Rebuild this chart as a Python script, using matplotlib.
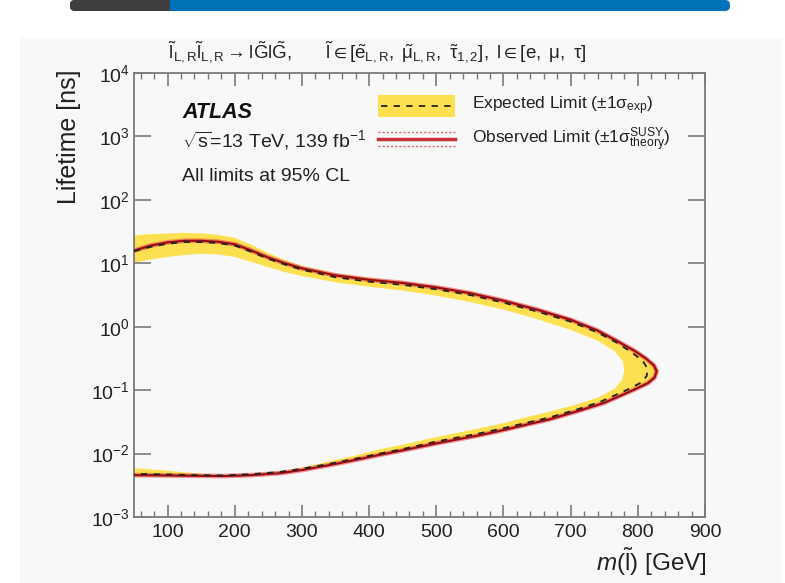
import numpy as np
import matplotlib
matplotlib.use('Agg')
import matplotlib.pyplot as plt
from matplotlib.patches import Rectangle, FancyBboxPatch
from matplotlib.lines import Line2D
from matplotlib.ticker import MultipleLocator, NullLocator
from matplotlib.transforms import IdentityTransform

plt.rcParams['font.family'] = ['Liberation Sans', 'DejaVu Sans']
plt.rcParams['mathtext.fontset'] = 'custom'
plt.rcParams['mathtext.rm'] = 'Liberation Sans'
plt.rcParams['mathtext.it'] = 'Liberation Sans:italic'
plt.rcParams['mathtext.bf'] = 'Liberation Sans:bold'
plt.rcParams['mathtext.sf'] = 'Liberation Sans'
plt.rcParams['mathtext.default'] = 'regular'

# contours: slepton mass [GeV] and log10(lifetime / ns)
# going along the upper branch to the tip, then back along the lower branch
obs_mass = [50, 75, 100, 125, 150, 175, 200, 225, 250, 275, 300, 350, 400, 450, 500, 550, 600, 650,
            700, 740, 770, 795, 812, 824, 828, 825, 815, 793, 750, 714, 669, 640, 600, 565, 500,
            450, 416, 380, 342, 300, 267, 225, 183, 140, 100, 50]
obs_logtau = [1.20, 1.28, 1.33, 1.355, 1.355, 1.34, 1.30, 1.20, 1.09, 1.00, 0.92, 0.81, 0.74, 0.69,
              0.62, 0.53, 0.41, 0.27, 0.11, -0.06, -0.23, -0.38, -0.50, -0.61, -0.70, -0.80, -0.89,
              -1.00, -1.20, -1.32, -1.46, -1.53, -1.63, -1.71, -1.84, -1.95, -2.02, -2.10, -2.18,
              -2.26, -2.31, -2.34, -2.355, -2.35, -2.345, -2.34]

exp_mass = [50, 75, 100, 125, 150, 175, 200, 225, 250, 275, 300, 350, 400, 450, 500, 550, 600, 650,
            700, 740, 770, 793, 808, 815, 813, 805, 785, 745, 714, 669, 640, 600, 565, 500, 450,
            416, 380, 342, 300, 267, 225, 183, 140, 100, 50]
exp_logtau = [1.19, 1.26, 1.31, 1.335, 1.335, 1.32, 1.28, 1.18, 1.07, 0.98, 0.90, 0.78, 0.71, 0.66,
              0.59, 0.50, 0.38, 0.24, 0.08, -0.09, -0.26, -0.42, -0.55, -0.67, -0.78, -0.88, -0.99,
              -1.18, -1.29, -1.43, -1.50, -1.60, -1.68, -1.81, -1.93, -2.00, -2.08, -2.16, -2.24,
              -2.29, -2.325, -2.345, -2.34, -2.33, -2.32]

band_out_mass = [50, 75, 100, 125, 150, 175, 200, 225, 250, 275, 300, 350, 400, 450, 500, 550, 600,
                 650, 700, 740, 770, 795, 812, 826, 831, 828, 818, 795, 752, 714, 669, 640, 600, 565,
                 500, 450, 416, 380, 342, 300, 267, 225, 183, 140, 100, 50]
band_out_logtau = [1.44, 1.46, 1.47, 1.48, 1.47, 1.45, 1.40, 1.29, 1.16, 1.05, 0.96, 0.84, 0.77,
                   0.71, 0.64, 0.55, 0.43, 0.29, 0.13, -0.04, -0.21, -0.36, -0.48, -0.60, -0.70,
                   -0.80, -0.89, -1.00, -1.20, -1.33, -1.47, -1.54, -1.64, -1.72, -1.85, -1.96,
                   -2.03, -2.11, -2.19, -2.27, -2.32, -2.35, -2.365, -2.365, -2.36, -2.36]

band_in_mass = [50, 75, 100, 125, 150, 175, 200, 225, 250, 275, 300, 350, 400, 450, 500, 550, 600,
                650, 700, 740, 765, 778, 780, 776, 765, 740, 714, 669, 640, 600, 565, 500, 450, 416,
                380, 342, 300, 267, 225, 183, 140, 100, 50]
band_in_logtau = [1.01, 1.06, 1.10, 1.13, 1.15, 1.14, 1.10, 1.02, 0.94, 0.86, 0.80, 0.70, 0.63, 0.57,
                  0.49, 0.39, 0.27, 0.12, -0.05, -0.22, -0.38, -0.55, -0.70, -0.85, -0.98, -1.12,
                  -1.21, -1.34, -1.41, -1.52, -1.60, -1.74, -1.86, -1.93, -2.03, -2.12, -2.22,
                  -2.28, -2.32, -2.34, -2.31, -2.27, -2.23]

W, H = 785, 583
fig = plt.figure(figsize=(W / 100, H / 100), dpi=100)
fig.patch.set_facecolor('white')

# page background and the header bar of the screenshot
fig.add_artist(Rectangle((20, 0), 762, H - 38, transform=IdentityTransform(),
                         facecolor='#f8f8f8', edgecolor='none', zorder=-10))
fig.add_artist(FancyBboxPatch((70, H - 11), 660, 11, boxstyle='round,pad=0,rounding_size=5',
                              transform=IdentityTransform(), facecolor='#0072bc',
                              edgecolor='none', zorder=-9))
fig.add_artist(FancyBboxPatch((70, H - 11), 100, 11, boxstyle='round,pad=0,rounding_size=5',
                              transform=IdentityTransform(), facecolor='#3f3f3f',
                              edgecolor='none', zorder=-8))
fig.add_artist(Rectangle((150, H - 11), 20, 11, transform=IdentityTransform(),
                         facecolor='#3f3f3f', edgecolor='none', zorder=-8))

ax = fig.add_axes([134 / W, 66 / H, 571 / W, 444 / H])
ax.set_facecolor('none')

band_m = band_out_mass + band_in_mass[::-1]
band_t = 10 ** np.array(band_out_logtau + band_in_logtau[::-1])
ax.fill(band_m, band_t, color='#fde050', lw=0, zorder=1)

obs_tau = 10 ** np.array(obs_logtau)
exp_tau = 10 ** np.array(exp_logtau)
ax.plot(obs_mass, obs_tau, color='#e8404c', lw=3.4, alpha=0.55, zorder=2)
ax.plot(obs_mass, obs_tau, color='#9a0a14', lw=1.5, zorder=3)
ax.plot(exp_mass, exp_tau, color='#222222', lw=1.3, ls=(0, (3.5, 3.5)), zorder=4)

ax.set_yscale('log')
ax.set_xlim(50, 900)
ax.set_ylim(1e-3, 1e4)
ax.xaxis.set_major_locator(MultipleLocator(100))
ax.xaxis.set_minor_locator(MultipleLocator(20))
ax.yaxis.set_minor_locator(NullLocator())
ax.set_xticks([100, 200, 300, 400, 500, 600, 700, 800, 900])

spine_col = '#7a7a7a'
for s in ax.spines.values():
    s.set_color(spine_col)
    s.set_linewidth(1.3)
ax.tick_params(which='both', direction='in', top=True, right=True, color=spine_col,
               labelsize=14, labelcolor='#222222')
ax.tick_params(axis='x', which='major', length=9, width=1.2, pad=5)
ax.tick_params(axis='x', which='minor', length=4.5, width=1.0)
ax.tick_params(axis='y', which='major', length=12.5, width=1.2, pad=3)

fig.text(69 / W, 1 - 70 / H, 'Lifetime [ns]', rotation=90, ha='center', va='top', size=18,
         color='#222222')
fig.text(707 / W, 1 - 562 / H, r'$\mathit{m}(\tilde{\mathrm{l}})$ [GeV]', ha='right', va='center',
         size=17.5, color='#222222')
fig.text(168 / W, 1 - 52 / H,
         r'$\tilde{l}_{L,R}\tilde{l}_{L,R}\rightarrow l\tilde{G}l\tilde{G},\quad\quad'
         r'\tilde{l}\in[\tilde{e}_{L,R},\ \tilde{\mu}_{L,R},\ \tilde{\tau}_{1,2}],\ l\in[e,\ \mu,\ \tau]$',
         ha='left', va='center', size=13.5, color='#222222')

ax.text(0.084, 0.912, 'ATLAS', weight='bold', style='italic', size=15.5, va='center',
        transform=ax.transAxes, color='#111111')
ax.text(0.084, 0.849, r'$\sqrt{s}$=13 TeV, 139 fb$^{-1}$', size=14, va='center',
        transform=ax.transAxes, color='#222222')
ax.text(0.084, 0.766, 'All limits at 95% CL', size=14, va='center',
        transform=ax.transAxes, color='#222222')

# legend drawn by hand, ROOT style
ax.add_patch(Rectangle((0.427, 0.901), 0.135, 0.049, transform=ax.transAxes,
                       facecolor='#fde050', edgecolor='none', zorder=5))
ax.add_line(Line2D([0.432, 0.558], [0.926, 0.926], transform=ax.transAxes, color='#222222',
                   lw=1.3, ls=(0, (3.5, 3.5)), zorder=6))
ax.add_line(Line2D([0.427, 0.562], [0.851, 0.851], transform=ax.transAxes, color='#c8303c',
                   lw=2.5, zorder=6))
for yy in (0.867, 0.835):
    ax.add_line(Line2D([0.427, 0.562], [yy, yy], transform=ax.transAxes, color='#e06070',
                       lw=1.0, ls=(0, (1.5, 1.5)), zorder=6))
ax.text(0.592, 0.926, r'Expected Limit ($\pm$1$\sigma_{\mathrm{exp}}$)', size=12.5, va='center',
        transform=ax.transAxes, color='#222222')
ax.text(0.592, 0.849, r'Observed Limit ($\pm$1$\sigma_{\mathrm{theory}}^{\mathrm{SUSY}}$)',
        size=12.5, va='center', transform=ax.transAxes, color='#222222')

fig.savefig('out.png', dpi=100, facecolor=fig.get_facecolor())
